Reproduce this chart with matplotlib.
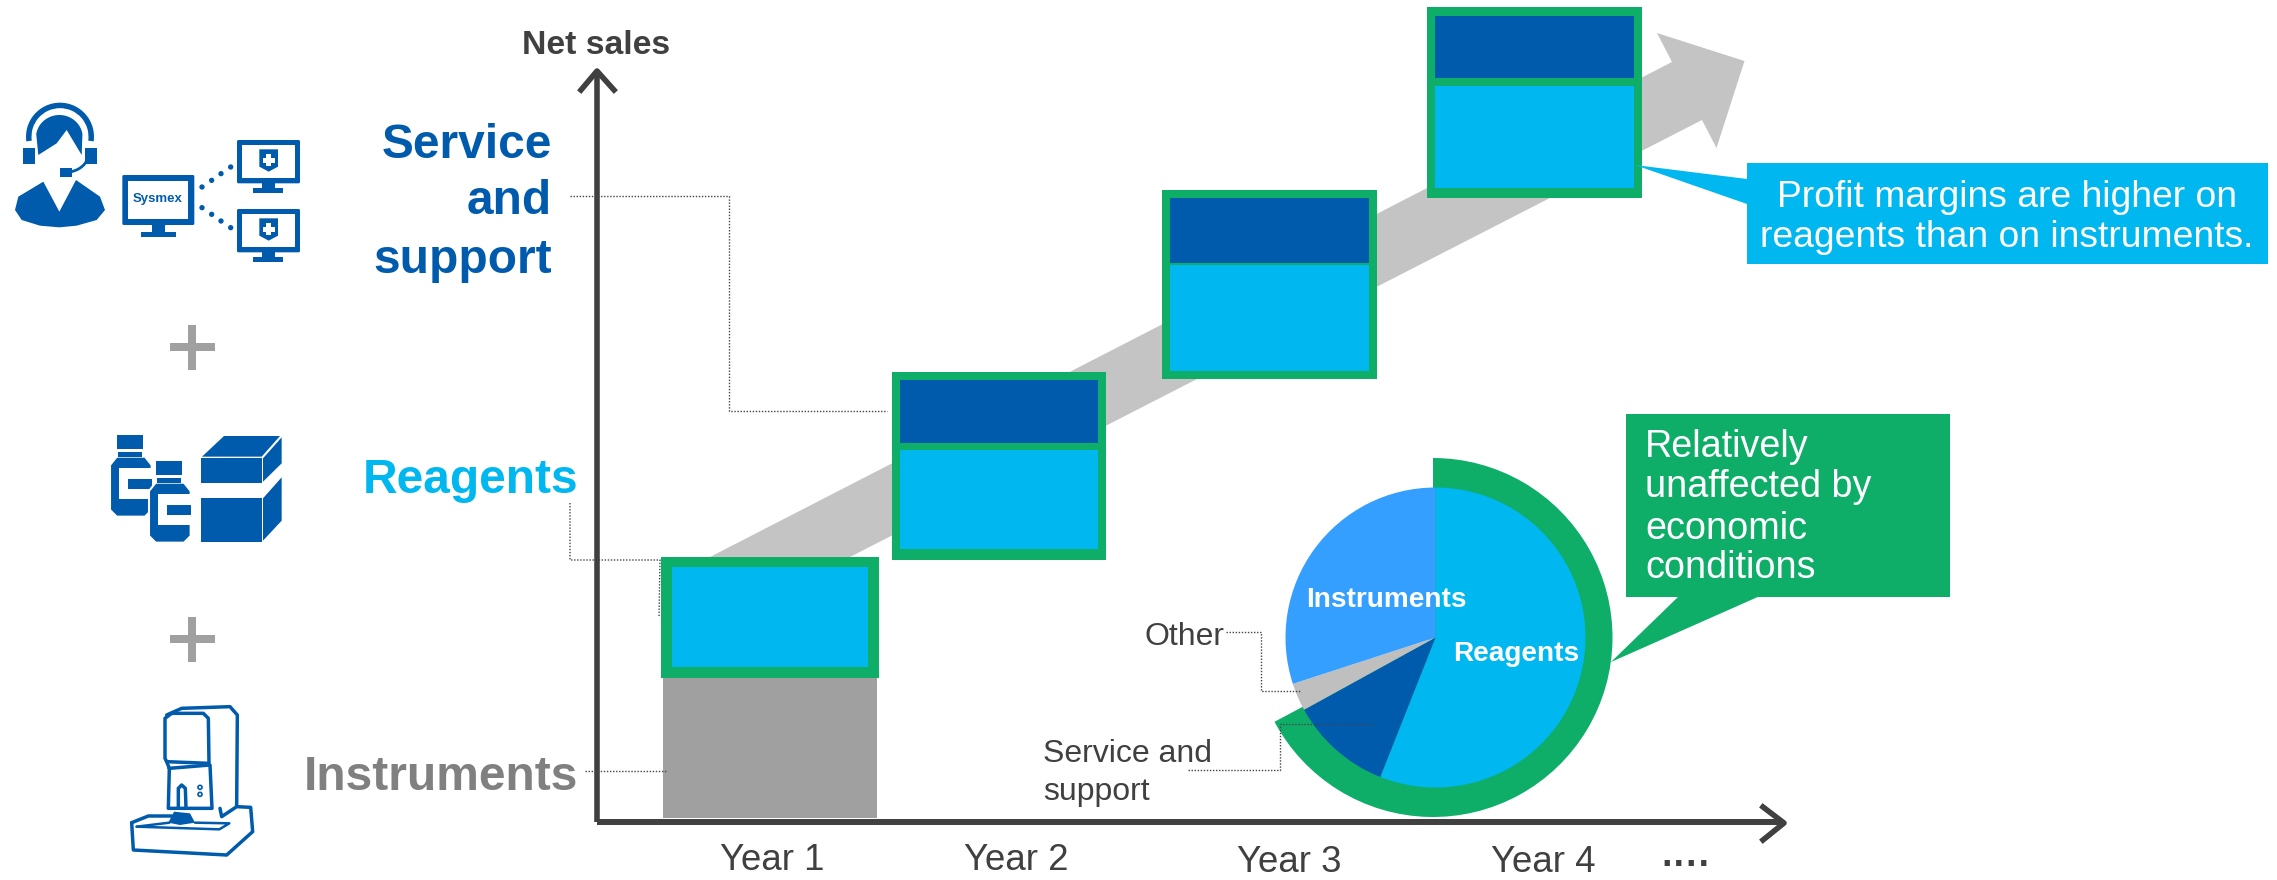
import matplotlib
matplotlib.use('Agg')
import matplotlib.pyplot as plt
import numpy as np
from matplotlib.patches import Polygon, Rectangle, Circle, Wedge, FancyBboxPatch

plt.rcParams['font.family'] = ['Liberation Sans', 'DejaVu Sans']

BLUE = '#00b7ef'
NAVY = '#005bac'
GREEN = '#0eae69'
GREY = '#a0a0a0'
ARROW = '#c4c4c4'
DARK = '#404040'

# net sales per year, measured up from the foot of the grey bar
years = ['Year 1', 'Year 2', 'Year 3', 'Year 4']
instruments_top = [141]
box_bottom = [140, 258, 439, 620]
box_top = [261, 446, 628, 811]
reagents_top = [251, 368, 553, 732]
reagents_bottom = [151, 269, 447, 630]
service_bottom = [None, 375, 555, 740]
service_top = [None, 438, 620, 802]

# pie shares, clockwise from twelve o'clock
pie_labels = ['Reagents', 'Service and support', 'Other', 'Instruments']
pie_shares = [56, 11, 3, 30]
pie_colors = [BLUE, NAVY, '#bfbfbf', '#359fff']

box_left = [661, 891.5, 1162, 1427]
box_right = [879, 1106, 1377, 1641.5]
inset = [11, 8, 8, 8]

fig = plt.figure(figsize=(22.77, 8.8), dpi=100)
ax = fig.add_axes([0, 0, 1, 1])


# everything below is laid out from the top left corner of the sheet
def Y(y):
    return 818 - y


def poly(points, color, z=2, **kw):
    pts = [(x, Y(y)) for x, y in points]
    ax.add_patch(Polygon(pts, closed=True, facecolor=color, edgecolor='none', zorder=z, **kw))


def rect(x0, y0, x1, y1, color, z=2):
    ax.add_patch(Rectangle((x0, Y(y1)), x1 - x0, y1 - y0, facecolor=color, edgecolor='none', zorder=z))


def dotted(points):
    xs = [p[0] for p in points]
    ys = [Y(p[1]) for p in points]
    ax.plot(xs, ys, color='#444444', lw=1.0, ls=(0, (1, 1.2)), zorder=6)


def label(x, y, s, size, color='#404040', ha='center', weight='normal', z=8, va='center'):
    ax.text(x, Y(y), s, fontsize=size, color=color, ha=ha, va=va, fontweight=weight, zorder=z)


# growth arrow behind the bars
poly([(710, 557), (1672, 62), (1657, 33), (1744.5, 61), (1716.5, 148), (1702, 120), (850, 557)], ARROW, z=1)

# bars
centers = [(a + b) / 2 for a, b in zip(box_left, box_right)]
widths = [b - a for a, b in zip(box_left, box_right)]
ax.bar(centers[0], instruments_top[0], width=214, bottom=0, color=GREY, zorder=2)
for i in range(len(years)):
    ax.bar(centers[i], box_top[i] - box_bottom[i], width=widths[i], bottom=box_bottom[i], color=GREEN, zorder=3)
    w = widths[i] - 2 * inset[i]
    ax.bar(centers[i], reagents_top[i] - reagents_bottom[i], width=w, bottom=reagents_bottom[i], color=BLUE, zorder=4)
    if service_top[i] is not None:
        ax.bar(centers[i], service_top[i] - service_bottom[i], width=w, bottom=service_bottom[i], color=NAVY, zorder=4)

# axis arrows
ax.plot([597, 597], [Y(822), Y(72)], color=DARK, lw=4, zorder=5, solid_capstyle='butt')
ax.plot([597, 1782], [Y(822), Y(822)], color=DARK, lw=4.3, zorder=5, solid_capstyle='butt')
ax.plot([581, 597, 614], [Y(90), Y(71), Y(90)], color=DARK, lw=4, zorder=5)
ax.plot([1763, 1784, 1763], [Y(807), Y(823), Y(840)], color=DARK, lw=4, zorder=5)

# pie with the green ring round the reagents and service slices
cx, cy = 1435.5, 637.5
ax.add_patch(Wedge((1433, Y(cy)), 179.5, 90 - 242, 90, facecolor=GREEN, edgecolor='none', zorder=3))
ax.pie(pie_shares, colors=pie_colors, startangle=90, counterclock=False, center=(cx, Y(cy)), radius=150,
       wedgeprops={'zorder': 4, 'linewidth': 0})
ax.set_xlim(0, 2277)
ax.set_ylim(-62, 818)
ax.set_aspect('auto')
ax.axis('off')

# callouts
rect(1747, 163, 2268, 264, BLUE, z=5)
poly([(1635, 165), (1747, 179), (1747, 204)], BLUE, z=5)
rect(1626, 414, 1950, 597, GREEN, z=5)
poly([(1679, 596), (1611, 662), (1760, 596)], GREEN, z=5)

# connector lines
dotted([(570, 196), (729, 196), (729, 411), (887, 411)])
dotted([(570, 503), (570, 560), (660, 560), (659, 617)])
dotted([(585, 771), (667, 771)])
dotted([(1226, 632), (1261, 632), (1261, 691), (1300, 691)])
dotted([(1188, 770), (1280, 770), (1280, 724), (1373, 724)])

# text
label(596, 45, 'Net sales', 24.3, weight='bold')
label(552, 145, 'Service', 34.5, NAVY, ha='right', weight='bold')
label(552, 201, 'and', 34.5, NAVY, ha='right', weight='bold')
label(552, 260, 'support', 34.5, NAVY, ha='right', weight='bold')
label(578, 480, 'Reagents', 34.5, BLUE, ha='right', weight='bold')
label(578, 777, 'Instruments', 34.5, '#808080', ha='right', weight='bold')

# year labels, the last two sit a little lower
label(772, 870, years[0], 26.4, va='baseline')
label(1016, 870, years[1], 26.4, va='baseline')
label(1289, 872, years[2], 26.4, va='baseline')
label(1543, 872, years[3], 26.4, va='baseline')
label(1686, 866, '····', 27, weight='bold')

label(1145, 637, 'Other', 23, ha='left')
label(1043, 754, 'Service and', 23, ha='left')
label(1043, 792, 'support', 23, ha='left')
label(1386, 600, 'Instruments', 20.2, 'white', weight='bold')
label(1516, 654, 'Reagents', 20.2, 'white', weight='bold')

label(2007, 197, 'Profit margins are higher on', 26.8, 'white')
label(2007, 237, 'reagents than on instruments.', 26.8, 'white')
label(1645, 447, 'Relatively', 27.2, 'white', ha='left')
label(1645, 487, 'unaffected by', 27.2, 'white', ha='left')
label(1645, 529, 'economic', 27.2, 'white', ha='left')
label(1645, 568, 'conditions', 27.2, 'white', ha='left')


# plus signs
for py in [347, 639]:
    rect(169.5, py - 4, 214.5, py + 4, GREY)
    rect(188, py - 22.5, 196, py + 22.5, GREY)


# support icon, drawn on a 3x grid from (0, 80)
def a(x, y):
    return (x / 3, 80 + y / 3)


def apoly(points, color=NAVY, z=3):
    poly([a(*p) for p in points], color, z=z)


def arect(x0, y0, x1, y1, color=NAVY, z=3):
    p0 = a(x0, y0)
    p1 = a(x1, y1)
    rect(p0[0], p0[1], p1[0], p1[1], color, z=z)


def acircle(x, y, r, color=NAVY, z=3):
    p = a(x, y)
    ax.add_patch(Circle((p[0], Y(p[1])), r / 3, facecolor=color, edgecolor='none', zorder=z))


hc = a(180, 170)
ax.add_patch(Wedge((hc[0], Y(hc[1])), 34, -8, 188, width=5.5, facecolor=NAVY, edgecolor='none', zorder=3))
t = np.radians(np.linspace(172, 8, 30))
hair = [(178 + 70 * np.cos(v), 172 - 67 * np.sin(v)) for v in t]
apoly([(115, 225)] + hair + [(245, 225), (200, 150), (170, 190)])
arect(70, 205, 105, 252)
arect(255, 205, 290, 252)
mic = np.radians(np.linspace(0, -70, 12))
ax.plot([a(195 + 70 * np.cos(v), 222 - 55 * np.sin(v))[0] for v in mic],
        [Y(a(195 + 70 * np.cos(v), 222 - 55 * np.sin(v))[1]) for v in mic], color=NAVY, lw=2, zorder=3)
arect(181, 265, 215, 290)
apoly([(45, 390), (55, 350), (130, 305), (178, 395), (228, 300), (300, 350), (315, 390), (290, 420),
       (230, 437), (178, 442), (120, 437), (65, 420)])


def monitor(x0, y0, x1, y1, b, neck, base):
    ax.add_patch(FancyBboxPatch((a(x0, y0)[0] + 1.5, Y(a(x0, y1)[1]) + 1.5), (x1 - x0) / 3 - 3, (y1 - y0) / 3 - 3,
                                boxstyle='round,pad=1.5', facecolor=NAVY, edgecolor='none', zorder=3))
    arect(x0 + b, y0 + b, x1 - b, y1 - b, 'white', z=4)
    arect(neck[0], y1, neck[1], base[2], z=3)
    arect(base[0], base[2], base[1], base[3], z=3)


monitor(367, 285, 583, 435, 18, (457, 495), (424, 527, 455, 470))
for dy in [0, 207]:
    monitor(711, 180 + dy, 900, 310 + dy, 16, (785, 825), (760, 850, 325 + dy, 340 + dy))
    apoly([(778, 208 + dy), (834, 208 + dy), (834, 260 + dy), (806, 275 + dy), (778, 260 + dy)], z=5)
    arect(788, 234 + dy, 824, 248 + dy, 'white', z=6)
    arect(799, 223 + dy, 813, 259 + dy, 'white', z=6)
s = a(474, 358)
ax.text(s[0], Y(s[1]), 'Sysmex', fontsize=9.5, color=NAVY, fontweight='bold', ha='center', va='center', zorder=6)
for x, y1, y2 in [(606, 321, 383), (635, 301, 403), (663, 281, 423), (692, 261, 443)]:
    acircle(x, y1, 8)
    acircle(x, y2, 8)


# reagent icon, 3x grid from (80, 400)
def b(x, y):
    return (80 + x / 3, 400 + y / 3)


def bpoly(points, color=NAVY, z=3):
    poly([b(*p) for p in points], color, z=z)


def bottle(dx, dy, z):
    # white halo keeps the front bottle apart from the one behind it
    pts = [(90, 195), (110, 170), (195, 170), (215, 195), (215, 330), (195, 350), (110, 350), (90, 330)]
    pts = [(x + dx, y + dy) for x, y in pts]
    halo = Polygon([(b(x, y)[0], Y(b(x, y)[1])) for x, y in pts], closed=True, facecolor=NAVY, edgecolor='white',
                   lw=1.5, zorder=z)
    ax.add_patch(halo)
    bpoly([(112 + dx, 105 + dy), (190 + dx, 105 + dy), (190 + dx, 148 + dy), (112 + dx, 148 + dy)], NAVY, z=z)
    bpoly([(115 + dx, 155 + dy), (187 + dx, 155 + dy), (187 + dx, 172 + dy), (115 + dx, 172 + dy)], NAVY, z=z)
    bpoly([(118 + dx, 205 + dy), (216 + dx, 205 + dy), (216 + dx, 298 + dy), (118 + dx, 298 + dy)], 'white', z=z)
    bpoly([(145 + dx, 238 + dy), (215 + dx, 238 + dy), (215 + dx, 268 + dy), (145 + dx, 268 + dy)], NAVY, z=z)


bottle(0, 0, 3)
bottle(117, 78, 4)
bpoly([(362, 175), (545, 175), (545, 248), (362, 248)])
bpoly([(366, 170), (432, 108), (600, 108), (545, 170)])
bpoly([(549, 175), (605, 112), (605, 190), (549, 245)])
bpoly([(362, 293), (545, 293), (545, 425), (362, 425)])
bpoly([(549, 295), (605, 232), (605, 362), (549, 422)])


# instrument icon
def bline(points, lw=2.5):
    xs = [b(*p)[0] for p in points]
    ys = [Y(b(*p)[1]) for p in points]
    ax.plot(xs, ys, color=NAVY, lw=lw, zorder=3, solid_joinstyle='round', solid_capstyle='round')


bline([(260, 945), (305, 925), (450, 920), (472, 945), (470, 1218)])
bline([(275, 940), (370, 940), (385, 955), (387, 1090), (260, 1085), (255, 1075), (255, 955), (275, 940)])
bline([(260, 1085), (268, 1105), (390, 1095), (396, 1225), (265, 1225), (268, 1105)])
bline([(295, 1225), (295, 1165), (305, 1155), (316, 1165), (318, 1225)])
bline([(155, 1268), (205, 1248), (275, 1248)])
bline([(155, 1268), (160, 1350), (440, 1365), (518, 1295), (512, 1222), (470, 1220), (425, 1250), (420, 1225)])
bline([(170, 1280), (268, 1268)], lw=1.8)
bline([(345, 1268), (448, 1270), (418, 1288), (170, 1280)], lw=1.8)
bpoly([(265, 1268), (282, 1235), (330, 1240), (345, 1268), (300, 1275)])
for y in [1162, 1183]:
    p = b(360, y)
    ax.add_patch(Circle((p[0], Y(p[1])), 2, facecolor='white', edgecolor=NAVY, lw=1.2, zorder=3))

fig.savefig('out.png', dpi=100, facecolor='white')
